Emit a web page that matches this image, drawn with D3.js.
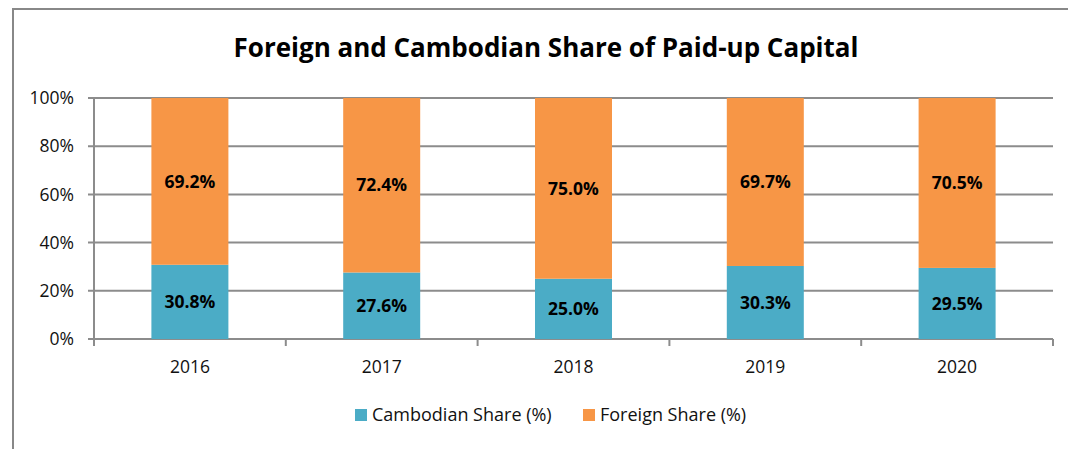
<!DOCTYPE html>
<html>
<head>
<meta charset="utf-8">
<script src="https://cdn.jsdelivr.net/npm/d3@7"></script>
<style>
  body { margin: 0; background: #fff; }
  svg { display: block; }
</style>
</head>
<body>
<script>
// chart size
var w = 1068;
var h = 449;

// data
var years = ["2016", "2017", "2018", "2019", "2020"];
var cambodian = [30.8, 27.6, 25.0, 30.3, 29.5];
var foreign = [69.2, 72.4, 75.0, 69.7, 70.5];
var seriesNames = ["Cambodian Share (%)", "Foreign Share (%)"];
var yTicks = [0, 20, 40, 60, 80, 100];

var colors = ["#4BACC6", "#F79646"];
var font = "'Open Sans', sans-serif";

var margin = {left: 94, right: 15};

var svg = d3.select("body")
            .append("svg")
            .attr("width", w)
            .attr("height", h);

// outer frame (cut off at right and bottom)
svg.append("path")
   .attr("d", "M13,449 L13,9 L1070,9")
   .attr("fill", "none")
   .attr("stroke", "#888")
   .attr("stroke-width", 2);

var x = d3.scaleBand()
          .domain(years)
          .range([margin.left, w - margin.right])
          .paddingInner(0)
          .paddingOuter(0);

var y = d3.scaleLinear()
          .domain([0, 100])
          .range([339, 98]);

// gridlines
svg.append("g")
   .selectAll("line")
   .data(yTicks)
   .enter()
   .append("line")
   .attr("x1", margin.left - 6)
   .attr("x2", w - margin.right)
   .attr("y1", (d) => y(d))
   .attr("y2", (d) => y(d))
   .attr("stroke", "#8c8c8c")
   .attr("stroke-width", 2);

// y axis line
svg.append("line")
   .attr("x1", margin.left)
   .attr("x2", margin.left)
   .attr("y1", y(100))
   .attr("y2", y(0) + 7)
   .attr("stroke", "#8c8c8c")
   .attr("stroke-width", 2);

// y labels
svg.append("g")
   .selectAll("text")
   .data(yTicks)
   .enter()
   .append("text")
   .attr("x", 74)
   .attr("y", (d) => y(d))
   .attr("dy", "0.35em")
   .attr("text-anchor", "end")
   .attr("font-family", font)
   .attr("font-size", "17.5px")
   .attr("fill", "#111")
   .text((d) => d + "%");

// x category ticks
var bounds = years.map((d) => x(d) + x.bandwidth()).slice(0, -1).concat([w - margin.right]);
svg.append("g")
   .selectAll("line")
   .data(bounds)
   .enter()
   .append("line")
   .attr("x1", (d) => d)
   .attr("x2", (d) => d)
   .attr("y1", y(0))
   .attr("y2", y(0) + 7)
   .attr("stroke", "#8c8c8c")
   .attr("stroke-width", 2);

// x labels
svg.append("g")
   .selectAll("text")
   .data(years)
   .enter()
   .append("text")
   .attr("x", (d) => x(d) + x.bandwidth() / 2)
   .attr("y", 373)
   .attr("text-anchor", "middle")
   .attr("font-family", font)
   .attr("font-size", "17.5px")
   .attr("fill", "#111")
   .text((d) => d);

// stacked bars
var barW = 77;
var stacks = years.map((d, i) => ({year: d, vals: [cambodian[i], foreign[i]]}));

stacks.forEach((s) => {
    var base = 0;
    s.vals.forEach((v, k) => {
        var cx = x(s.year) + x.bandwidth() / 2;
        svg.append("rect")
           .attr("x", cx - barW / 2)
           .attr("width", barW)
           .attr("y", y(base + v))
           .attr("height", y(base) - y(base + v))
           .attr("fill", colors[k]);
        svg.append("text")
           .attr("x", cx)
           .attr("y", (y(base) + y(base + v)) / 2)
           .attr("dy", "0.35em")
           .attr("text-anchor", "middle")
           .attr("font-family", font)
           .attr("font-size", "17.5px")
           .attr("font-weight", "bold")
           .attr("fill", "#000")
           .text(v.toFixed(1) + "%");
        base += v;
    });
});

// title
svg.append("text")
   .attr("x", 546)
   .attr("y", 57)
   .attr("text-anchor", "middle")
   .attr("font-family", font)
   .attr("font-size", "26px")
   .attr("font-weight", "bold")
   .attr("fill", "#000")
   .text("Foreign and Cambodian Share of Paid-up Capital");

// legend
var legendX = [355, 583];
var legend = svg.append("g")
                .selectAll("g")
                .data(seriesNames)
                .enter()
                .append("g")
                .attr("transform", (d, i) => "translate(" + legendX[i] + ",415)");

legend.append("rect")
      .attr("x", 0)
      .attr("y", -6)
      .attr("width", 12)
      .attr("height", 12)
      .attr("fill", (d, i) => colors[i]);

legend.append("text")
      .attr("x", 17)
      .attr("y", 0)
      .attr("dy", "0.35em")
      .attr("font-family", font)
      .attr("font-size", "18px")
      .attr("fill", "#111")
      .text((d) => d);
</script>
</body>
</html>
